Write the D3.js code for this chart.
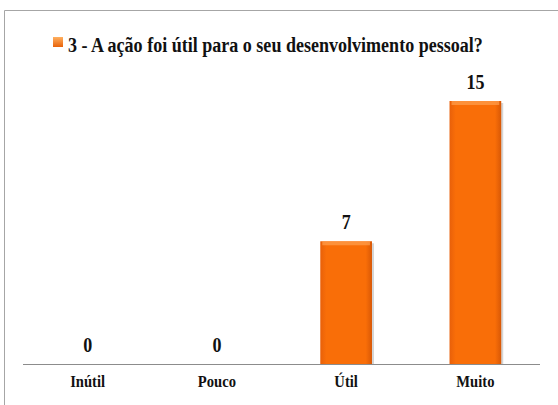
<!DOCTYPE html>
<html>
<head>
<meta charset="utf-8">
<script src="https://cdn.jsdelivr.net/npm/d3@7"></script>
<style>
  body { margin: 0; background: #fff; }
  svg { display: block; }
  text { font-family: "Liberation Serif", "DejaVu Serif", "Times New Roman", serif; font-weight: bold; fill: #111; }
</style>
</head>
<body>
<div id="chart"></div>
<script>
const categories = ["Inútil", "Pouco", "Útil", "Muito"];
const values = [0, 0, 7, 15];
const seriesName = "3 - A ação foi útil para o seu desenvolvimento pessoal?";

const width = 558, height = 405;
const margin = { top: 101, right: 18, bottom: 41, left: 23 };

const svg = d3.select("#chart").append("svg")
    .attr("width", width)
    .attr("height", height);

const defs = svg.append("defs");
const grad = defs.append("linearGradient")
    .attr("id", "barGrad")
    .attr("x1", 0).attr("x2", 1).attr("y1", 0).attr("y2", 0);
grad.append("stop").attr("offset", "0%").attr("stop-color", "#e8600a");
grad.append("stop").attr("offset", "12%").attr("stop-color", "#f96e08");
grad.append("stop").attr("offset", "88%").attr("stop-color", "#f96e08");
grad.append("stop").attr("offset", "100%").attr("stop-color", "#d85806");

const legGrad = defs.append("linearGradient")
    .attr("id", "legGrad")
    .attr("x1", 0).attr("x2", 0).attr("y1", 0).attr("y2", 1);
legGrad.append("stop").attr("offset", "0%").attr("stop-color", "#ffb060");
legGrad.append("stop").attr("offset", "100%").attr("stop-color", "#e8620a");

// frame (only top and left edges show)
svg.append("path")
    .attr("d", `M4.5,${height} L4.5,10.5 L${width},10.5`)
    .attr("fill", "none")
    .attr("stroke", "#a6a6a6")
    .attr("stroke-width", 1);

const x = d3.scaleBand()
    .domain(categories)
    .range([margin.left, width - margin.right])
    .paddingInner(0.6)
    .paddingOuter(0.3);

const y = d3.scaleLinear()
    .domain([0, 15])
    .range([height - margin.bottom, margin.top]);

const data = categories.map((c, i) => ({ cat: c, val: values[i] }));
const g = svg.append("g");

// soft shadow
g.selectAll(".shadow")
    .data(data.filter(d => d.val > 0))
    .enter()
    .append("rect")
    .attr("x", d => x(d.cat) + 2)
    .attr("y", d => y(d.val) + 2)
    .attr("width", x.bandwidth())
    .attr("height", d => y(0) - y(d.val) - 2)
    .attr("fill", "#b9b9b9")
    .attr("opacity", 0.6);

g.selectAll(".bar")
    .data(data)
    .enter()
    .append("rect")
    .attr("class", "bar")
    .attr("x", d => x(d.cat))
    .attr("y", d => y(d.val))
    .attr("width", x.bandwidth())
    .attr("height", d => y(0) - y(d.val))
    .attr("fill", "url(#barGrad)");

g.selectAll(".bevel")
    .data(data.filter(d => d.val > 0))
    .enter()
    .append("rect")
    .attr("x", d => x(d.cat) + 2)
    .attr("y", d => y(d.val))
    .attr("width", x.bandwidth() - 4)
    .attr("height", 4)
    .attr("fill", "#ffa050")
    .attr("opacity", 0.7);

// axis line
svg.append("line")
    .attr("x1", margin.left)
    .attr("x2", width - margin.right)
    .attr("y1", y(0) + 0.5)
    .attr("y2", y(0) + 0.5)
    .attr("stroke", "#8c8c8c")
    .attr("stroke-width", 1.2);

// value labels
g.selectAll(".label")
    .data(data)
    .enter()
    .append("text")
    .attr("transform", d => `translate(${x(d.cat) + x.bandwidth() / 2},${y(d.val) - 12}) scale(0.9,1)`)
    .attr("text-anchor", "middle")
    .style("font-size", "20px")
    .text(d => d.val);

// category labels
g.selectAll(".cat")
    .data(categories)
    .enter()
    .append("text")
    .attr("transform", d => `translate(${x(d) + x.bandwidth() / 2},${y(0) + 23}) scale(0.86,1)`)
    .attr("text-anchor", "middle")
    .style("font-size", "17px")
    .text(d => d);

// legend / title
svg.append("rect")
    .attr("x", 53)
    .attr("y", 37)
    .attr("width", 10)
    .attr("height", 10)
    .attr("fill", "url(#legGrad)");

const title = svg.append("text")
    .style("font-size", "22px")
    .text(seriesName);
const natural = title.node().getComputedTextLength();
const sx = Math.min(1, 415 / natural);
title.attr("transform", `translate(68,52) scale(${sx},1)`);
</script>
</body>
</html>
